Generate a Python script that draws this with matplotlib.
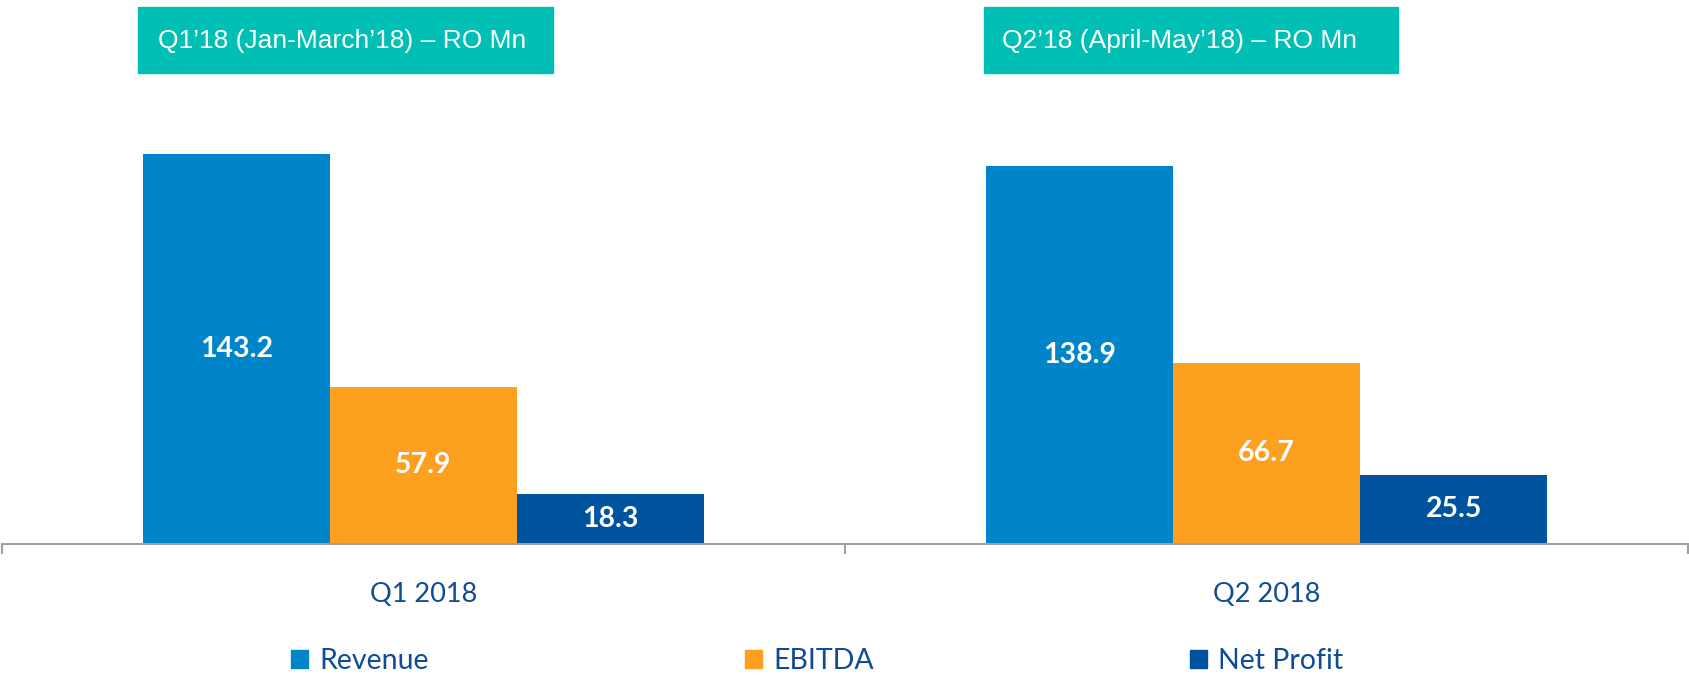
import matplotlib.pyplot as plt
from matplotlib.patches import Patch, Rectangle

categories = ["Q1 2018", "Q2 2018"]
series = ["Revenue", "EBITDA", "Net Profit"]
revenue = [143.2, 138.9]
ebitda = [57.9, 66.7]
net_profit = [18.3, 25.5]
headers = ["Q1\u201918 (Jan-March\u201918) \u2013 RO Mn",
           "Q2\u201918 (April-May\u201918) \u2013 RO Mn"]

colors = ["#0085CA", "#FD9F1F", "#00549F"]
text_blue = "#0F4C95"
teal = "#00C0B5"


def main():
    W, H = 1690, 678
    fig = plt.figure(figsize=(W / 100, H / 100), dpi=100)
    ax = fig.add_axes([2 / W, 1 - 544 / H, 1686 / W, 544 / H])

    width = 0.222
    x = list(range(len(categories)))
    for i, (vals, c) in enumerate(zip([revenue, ebitda, net_profit], colors)):
        pos = [xi + (i - 1) * width for xi in x]
        bars = ax.bar(pos, vals, width=width, color=c, linewidth=0)
        ax.bar_label(bars, labels=[f"{v:.1f}" for v in vals], label_type="center",
                     color="white", fontsize=20.5, fontweight="bold", family="Lato")

    ax.set_xlim(-0.5, 1.5)
    ax.set_ylim(0, 200)
    for s in ["top", "right", "left"]:
        ax.spines[s].set_visible(False)
    ax.spines["bottom"].set_color("#A0A0A0")
    ax.spines["bottom"].set_linewidth(1.5)
    ax.set_yticks([])
    ax.set_xticks([-0.5, 0.5, 1.5])
    ax.set_xticklabels([])
    ax.tick_params(axis="x", which="major", length=7, width=1.5, color="#A0A0A0")
    ax.set_xticks(x, minor=True)
    ax.set_xticklabels(categories, minor=True, fontsize=19.5, family="Lato", color=text_blue)
    ax.tick_params(axis="x", which="minor", length=0, pad=27)

    # header boxes
    boxes = [(138, 553, 158), (984, 1398, 1002)]
    for (x0, x1, tx), label in zip(boxes, headers):
        fig.patches.append(Rectangle((x0 / W, 1 - 73 / H), (x1 - x0) / W, 66 / H,
                                     transform=fig.transFigure, color=teal, zorder=3))
        fig.text(tx / W, 1 - 41 / H, label, color="white", fontsize=19,
                 family="Liberation Sans", va="center", ha="left", zorder=4)

    handles = [Patch(color=c, label=s) for c, s in zip(colors, series)]
    leg = fig.legend(handles=handles, ncol=3, loc="center",
                     bbox_to_anchor=(817 / W, 1 - 661 / H), frameon=False,
                     handlelength=0.6, handleheight=0.6, handletextpad=0.4,
                     columnspacing=11.1, prop={"family": "Lato", "size": 20.5})
    for t in leg.get_texts():
        t.set_color(text_blue)

    fig.savefig("out.png", dpi=100)


if __name__ == "__main__":
    main()
